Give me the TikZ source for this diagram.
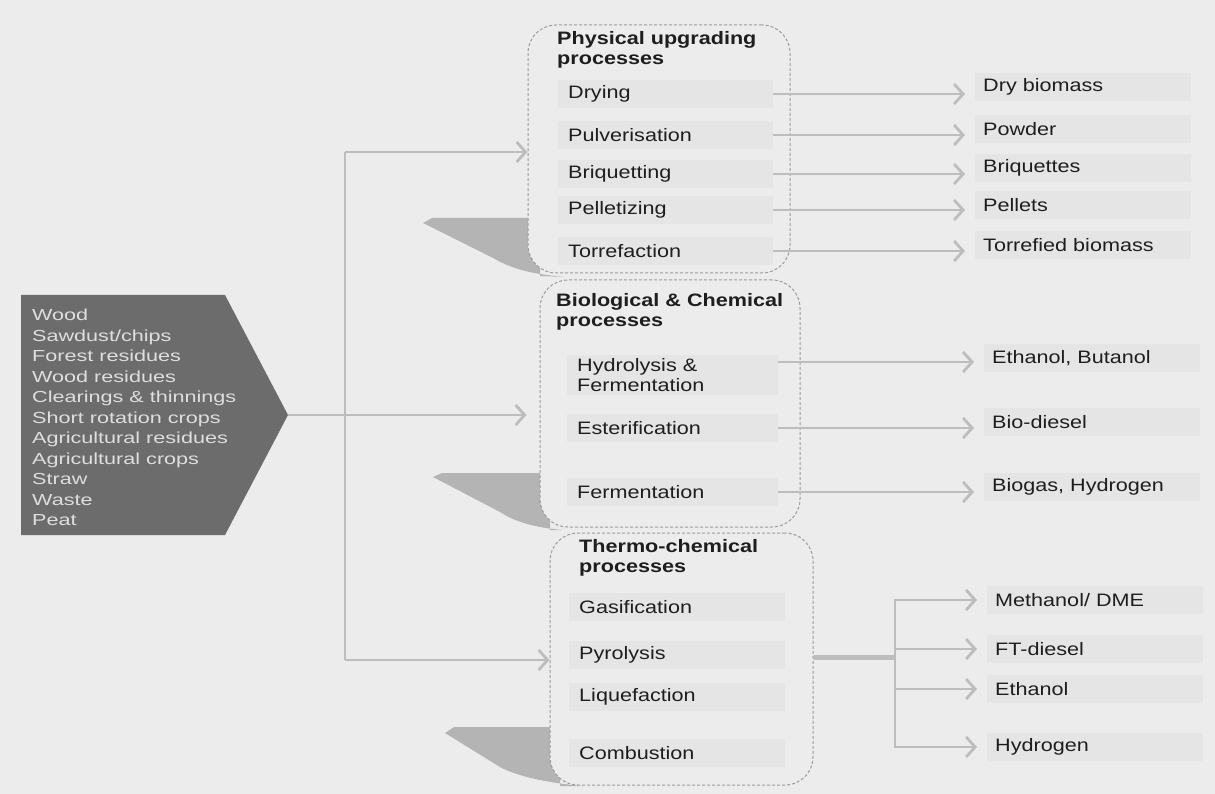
\documentclass[tikz,border=0pt]{standalone}
\usepackage{fontspec}
\setmainfont{Liberation Sans}[FakeStretch=1.2]
\newfontfamily\srcfont{Liberation Sans}[FakeStretch=1.35]
\usetikzlibrary{arrows.meta,positioning}

\definecolor{bg}{HTML}{ECECEC}
\definecolor{srcfill}{HTML}{6C6C6C}
\definecolor{srctext}{HTML}{DEDEDE}
\definecolor{linegray}{HTML}{BDBDBD}
\definecolor{boxline}{HTML}{9C9C9C}
\definecolor{shadowgray}{HTML}{B4B4B4}
\definecolor{bandgray}{HTML}{E5E5E5}
\definecolor{ink}{HTML}{1E1E1E}

\tikzset{
  procbox/.style={draw=boxline, line width=1pt, dash pattern=on 3pt off 2pt,
    rounded corners=28pt, fill=bg},
  grouptitle/.style={anchor=west, align=left, text=ink, inner sep=0pt,
    font=\bfseries\fontsize{18}{20}\selectfont},
  proc/.style={anchor=west, align=left, fill=bandgray, text=ink, inner xsep=10pt,
    minimum height=28pt, font=\fontsize{18}{20}\selectfont},
  prod/.style={anchor=west, align=left, fill=bandgray, text=ink, inner xsep=8pt,
    minimum height=28pt, text width=200pt, font=\fontsize{18}{20}\selectfont},
  conn/.style={draw=linegray, line width=2.8pt},
  flow/.style={conn, -{Straight Barb[length=9pt, width=20pt]}, shorten >=10pt},
  shadowtail/.style={fill=shadowgray},
}

\begin{document}
\begin{tikzpicture}[x=1pt, y=-1pt]
  \useasboundingbox (0,0) rectangle (1215,794);
  \fill[bg] (0,0) rectangle (1215,794);

  % feedstock
  \fill[srcfill] (21,295) -- (225,295) -- (288,415) -- (225,535) -- (21,535) -- cycle;
  \node[anchor=west, align=left, text=srctext, inner sep=0pt,
    font=\srcfont\fontsize{16}{20.5}\selectfont] (src) at (32,417.5)
    {Wood\\Sawdust/chips\\Forest residues\\Wood residues\\Clearings \& thinnings\\
     Short rotation crops\\Agricultural residues\\Agricultural crops\\Straw\\Waste\\Peat};
  \coordinate (srctip) at (288,415);
  \coordinate (jtop) at (345,152);
  \coordinate (jbot) at (345,660);

  % shadows behind the boxes
  \fill[shadowtail] (423,223) -- (432,218) -- (540,218) -- (540,276) -- (565,277)
    .. controls (530,274) and (510,268) .. (495,259) -- cycle;
  \fill[shadowtail] (433,477) -- (442,473) -- (550,473) -- (550,530) -- (562,530)
    .. controls (530,527) and (512,520) .. (500,512) -- cycle;
  \fill[shadowtail] (445,733) -- (454,727) -- (560,727) -- (560,786) -- (582,786)
    .. controls (540,782) and (515,775) .. (500,767) -- cycle;

  % process groups
  \node[procbox, minimum width=262pt, minimum height=248pt] (phys) at (659,149) {};
  \node[procbox, minimum width=260pt, minimum height=247pt] (bio) at (670,403.5) {};
  \node[procbox, minimum width=263pt, minimum height=252pt] (thermo) at (681.5,659) {};

  \node[grouptitle] (physt) at (557,50) {Physical upgrading\\processes};
  \node[grouptitle] (biot) at (556,312) {Biological \& Chemical\\processes};
  \node[grouptitle] (thermot) at (579,558) {Thermo-chemical\\processes};

  \node[proc, text width=195pt] (dry) at (558,94) {Drying};
  \node[proc, text width=195pt] (pulv) at (558,135) {Pulverisation};
  \node[proc, text width=195pt] (briq) at (558,174) {Briquetting};
  \node[proc, text width=195pt] (pell) at (558,210) {Pelletizing};
  \node[proc, text width=195pt] (torr) at (558,251) {Torrefaction};

  \node[proc, text width=191pt] (hyd) at (567,375) {Hydrolysis \&\\Fermentation};
  \node[proc, text width=191pt] (ester) at (567,428) {Esterification};
  \node[proc, text width=191pt] (ferm) at (567,492) {Fermentation};

  \node[proc, text width=196pt] (gas) at (569,607) {Gasification};
  \node[proc, text width=196pt] (pyro) at (569,655) {Pyrolysis};
  \node[proc, text width=196pt] (liq) at (569,697) {Liquefaction};
  \node[proc, text width=196pt] (comb) at (569,753) {Combustion};

  % products
  \node[prod] (drybio) at (975,87) {Dry biomass};
  \node[prod] (powder) at (975,129) {Powder};
  \node[prod] (briqs) at (975,168) {Briquettes};
  \node[prod] (pellets) at (975,205) {Pellets};
  \node[prod] (torrbio) at (975,245) {Torrefied biomass};

  \node[prod] (ethbut) at (984,358) {Ethanol, Butanol};
  \node[prod] (biodsl) at (984,422) {Bio-diesel};
  \node[prod] (biogas) at (984,487) {Biogas, Hydrogen};

  \node[prod] (meth) at (987,600) {Methanol/ DME};
  \node[prod] (ftd) at (987,649) {FT-diesel};
  \node[prod] (etoh) at (987,689) {Ethanol};
  \node[prod] (hydr) at (987,747) {Hydrogen};

  % feedstock to groups
  \draw[conn] (jtop) -- (jbot);
  \draw[flow, shorten >=0pt] (jtop) -- (jtop -| phys.west);
  \draw[flow, shorten >=13pt] (srctip) -- (srctip -| bio.west);
  \draw[flow, shorten >=0pt] (jbot) -- (jbot -| thermo.west);

  % groups to products
  \draw[flow] (dry.east) -- (dry.east -| drybio.west);
  \draw[flow] (pulv.east) -- (pulv.east -| powder.west);
  \draw[flow] (briq.east) -- (briq.east -| briqs.west);
  \draw[flow] (pell.east) -- (pell.east -| pellets.west);
  \draw[flow] (torr.east) -- (torr.east -| torrbio.west);

  \coordinate (hydout) at ([yshift=13pt]hyd.east);
  \draw[flow] (hydout) -- (hydout -| ethbut.west);
  \draw[flow] (ester.east) -- (ester.east -| biodsl.west);
  \draw[flow] (ferm.east) -- (ferm.east -| biogas.west);

  \coordinate (tj) at (895,657);
  \draw[conn, line width=5pt] (tj -| thermo.east) -- (tj);
  \draw[conn] ([yshift=1.4pt]tj |- meth.west) -- ([yshift=-1.4pt]tj |- hydr.west);
  \foreach \p in {meth,ftd,etoh,hydr}
    \draw[flow] (tj |- \p.west) -- (\p.west);
\end{tikzpicture}
\end{document}
